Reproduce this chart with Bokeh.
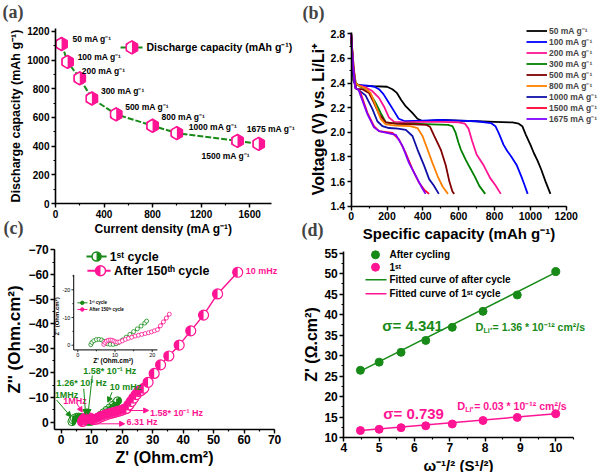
import numpy as np
from bokeh.plotting import figure
from bokeh.layouts import row, column
from bokeh.models import (Range1d, Label, Arrow, NormalHead, Legend, LegendItem,
                          SingleIntervalTicker, PrintfTickFormatter)
from bokeh.core.properties import value
from bokeh.embed import file_html
from bokeh.resources import INLINE

FONT = "Liberation Sans"
SERIF = "Liberation Serif"
PINK = "#FF1493"
GREEN = "#178A17"

# ---------------- (a) rate capability ----------------
a_current = [50, 100, 200, 300, 500, 800, 1000, 1500, 1675]
a_capacity = [1112, 987, 873, 732, 622, 542, 491, 436, 416]
a_labels = ["50 mA g⁻¹", "100 mA g⁻¹", "200 mA g⁻¹", "300 mA g⁻¹", "500 mA g⁻¹",
            "800 mA g⁻¹", "1000 mA g⁻¹", "1500 mA g⁻¹", "1675 mA g⁻¹"]
a_label_dx = [11, 10, 2, 9, 9, 9, 12, -36, -12]
a_label_dy = [-5, -5, -7, -8, -7, -9, -6, 15, -15]

# ---------------- (b) discharge curves ----------------
b_cap_50 = [0, 6, 12, 25, 60, 120, 200, 230, 255, 280, 305, 340, 370, 400, 450, 500, 600, 700, 800, 900, 935, 955, 975, 1000, 1020, 1040, 1060, 1085, 1112]
b_v_50 = [2.80, 2.60, 2.42, 2.385, 2.38, 2.375, 2.37, 2.35, 2.32, 2.26, 2.21, 2.16, 2.11, 2.09, 2.095, 2.10, 2.095, 2.09, 2.085, 2.08, 2.07, 2.05, 1.98, 1.90, 1.83, 1.77, 1.70, 1.60, 1.50]
b_cap_100 = [0, 8, 18, 40, 90, 130, 155, 180, 210, 240, 265, 300, 400, 500, 600, 700, 780, 805, 825, 850, 870, 895, 925, 950, 968, 985]
b_v_100 = [2.80, 2.55, 2.40, 2.385, 2.38, 2.37, 2.35, 2.31, 2.24, 2.17, 2.11, 2.09, 2.095, 2.10, 2.095, 2.09, 2.075, 2.05, 1.99, 1.90, 1.85, 1.80, 1.73, 1.64, 1.57, 1.50]
b_cap_200 = [0, 10, 25, 50, 80, 118, 155, 183, 211, 240, 300, 400, 500, 600, 635, 655, 675, 700, 740, 775, 805, 835]
b_v_200 = [2.80, 2.55, 2.39, 2.38, 2.365, 2.335, 2.28, 2.21, 2.12, 2.085, 2.08, 2.085, 2.085, 2.08, 2.07, 2.03, 1.93, 1.82, 1.73, 1.63, 1.57, 1.50]
b_cap_300 = [0, 10, 25, 50, 70, 99, 136, 164, 193, 250, 350, 450, 540, 565, 582, 598, 612, 638, 660, 690, 715, 748]
b_v_300 = [2.78, 2.55, 2.40, 2.37, 2.36, 2.33, 2.24, 2.16, 2.08, 2.07, 2.07, 2.065, 2.06, 2.05, 2.00, 1.92, 1.86, 1.78, 1.72, 1.64, 1.565, 1.50]
b_cap_500 = [0, 10, 20, 28, 45, 62, 99, 127, 155, 193, 250, 350, 420, 440, 464, 500, 528, 548, 565, 575]
b_v_500 = [2.78, 2.60, 2.42, 2.35, 2.35, 2.35, 2.32, 2.24, 2.15, 2.08, 2.07, 2.065, 2.06, 2.045, 1.97, 1.86, 1.73, 1.60, 1.52, 1.50]
b_cap_800 = [0, 12, 25, 40, 75, 108, 136, 164, 193, 250, 330, 370, 398, 426, 454, 482, 510, 540]
b_v_800 = [2.80, 2.55, 2.40, 2.38, 2.36, 2.32, 2.22, 2.11, 2.065, 2.055, 2.05, 2.035, 1.97, 1.86, 1.75, 1.645, 1.56, 1.50]
b_cap_1000 = [0, 10, 25, 45, 80, 118, 146, 174, 211, 260, 305, 342, 370, 407, 435, 460, 489]
b_v_1000 = [2.78, 2.55, 2.36, 2.34, 2.30, 2.19, 2.09, 2.05, 2.035, 2.03, 2.02, 1.97, 1.86, 1.73, 1.62, 1.57, 1.50]
b_cap_1500 = [0, 10, 22, 40, 52, 90, 127, 155, 230, 267, 305, 342, 379, 410, 435]
b_v_1500 = [2.78, 2.55, 2.36, 2.35, 2.32, 2.16, 2.05, 2.01, 1.995, 1.94, 1.83, 1.70, 1.59, 1.53, 1.50]
b_cap_1675 = [0, 10, 22, 40, 52, 90, 127, 155, 249, 286, 323, 370, 395, 415]
b_v_1675 = [2.80, 2.55, 2.36, 2.35, 2.30, 2.15, 2.04, 2.01, 1.98, 1.89, 1.75, 1.62, 1.55, 1.50]
b_names = ["50 mA g⁻¹", "100 mA g⁻¹", "200 mA g⁻¹", "300 mA g⁻¹", "500 mA g⁻¹",
           "800 mA g⁻¹", "1000 mA g⁻¹", "1500 mA g⁻¹", "1675 mA g⁻¹"]
b_colors = ["#000000", "#0000FF", "#FF1493", "#008000", "#800000",
            "#FF8000", "#1010A8", "#FF0033", "#7F00FF"]

# ---------------- (c) Nyquist ----------------
c_first_x = [3.5, 3.8, 4.3, 5.0, 5.7, 6.4, 7.0, 7.5, 8.0, 8.7, 9.5, 10.3, 11.0, 12.0, 13.0, 14.0, 15.0, 16.0, 17.0, 18.0, 18.5]
c_first_y = [-0.2, -1.0, -1.6, -2.0, -2.1, -1.9, -1.4, -0.9, -0.5, -0.3, -0.3, -0.5, -1.0, -1.9, -2.9, -3.9, -4.9, -5.9, -6.9, -8.0, -8.7]
c_after_x = [7.0, 7.3, 7.7, 8.2, 8.7, 9.2, 9.7, 10.2, 10.7, 11.3, 12.0, 12.8, 13.6, 14.5, 15.4, 16.3, 17.2, 18.1, 19.0, 19.8, 20.6, 21.4, 22.2, 23.0, 23.8, 24.6, 25.4, 26.2, 27.1, 28.5, 30.5, 32.6, 35.3, 38.7, 42.5, 46.7, 51.3, 57.9]
c_after_y = [-0.3, -1.0, -1.5, -1.8, -1.9, -1.8, -1.5, -1.2, -1.1, -1.2, -1.6, -2.1, -2.5, -2.9, -3.3, -3.6, -3.9, -4.2, -4.5, -4.8, -5.2, -5.6, -7.0, -8.4, -9.8, -11.2, -12.5, -12.9, -13.8, -16.2, -19.8, -23.3, -26.9, -31.3, -37.1, -43.5, -52.1, -60.9]

# ---------------- (d) Warburg ----------------
d_omega = [4.47, 5.0, 5.62, 6.32, 7.07, 7.94, 8.91, 10.0]
d_after = [26.4, 28.4, 30.8, 33.7, 36.9, 40.8, 44.8, 50.5]
d_first = [11.7, 12.0, 12.4, 12.85, 13.3, 14.15, 14.9, 15.8]
d_fit_x = [4.47, 10.0]
d_fit_after = [26.2, 50.3]
d_fit_first = [11.7, 15.8]


def make_fig(w, h, xr, yr, xfix, yfix, xb, yb):
    p = figure(width=w, height=h, x_range=Range1d(*xr), y_range=Range1d(*yr),
               output_backend="svg", toolbar_location=None,
               min_border_left=0, min_border_right=0, min_border_top=0, min_border_bottom=0)
    p.xaxis.fixed_location = xfix
    p.yaxis.fixed_location = yfix
    p.xaxis.bounds = xb
    p.yaxis.bounds = yb
    return p


def style(p, tick_size, xlab_size, ylab_size, xint, yint):
    p.outline_line_color = None
    p.xgrid.visible = False
    p.ygrid.visible = False
    p.background_fill_color = "white"
    p.border_fill_color = "white"
    p.xaxis.ticker = SingleIntervalTicker(interval=xint, num_minor_ticks=2)
    p.yaxis.ticker = SingleIntervalTicker(interval=yint, num_minor_ticks=2)
    for ax, ls in ((p.xaxis[0], xlab_size), (p.yaxis[0], ylab_size)):
        ax.axis_line_width = 1.6
        ax.major_tick_line_width = 1.4
        ax.minor_tick_line_width = 1.2
        ax.major_tick_in = 0
        ax.major_tick_out = 4
        ax.minor_tick_in = 0
        ax.minor_tick_out = 2
        ax.major_label_text_font = FONT
        ax.major_label_text_font_style = "bold"
        ax.major_label_text_font_size = tick_size
        ax.major_label_text_color = "black"
        ax.axis_label_text_font = FONT
        ax.axis_label_text_font_style = "bold"
        ax.axis_label_text_font_size = ls
        ax.axis_label_text_color = "black"
        ax.major_label_standoff = 2
        ax.axis_label_standoff = 1


def letter(p, txt, x, y):
    p.add_layout(Label(x=x, y=y, x_units="screen", y_units="screen", text=txt,
                       text_font=SERIF, text_font_style="bold", text_font_size="18px",
                       text_baseline="middle", text_align="left"))


def half_circles(t, x, y, color, size, left=True, lw=1.0):
    t.scatter(x, y, marker="circle", size=size, fill_color="white", line_color=color, line_width=lw)
    s, e = (np.pi / 2, 3 * np.pi / 2) if left else (-np.pi / 2, np.pi / 2)
    t.wedge(x, y, radius=size / 2, radius_units="screen", start_angle=s, end_angle=e,
            fill_color=color, line_color=None)


def half_hex(t, x, y, size):
    t.scatter(x, y, marker="hex", size=size, angle=np.pi / 2, fill_color=PINK, line_color=PINK)
    t.wedge(x, y, radius=size * 0.41, radius_units="screen", start_angle=np.pi / 2,
            end_angle=3 * np.pi / 2, fill_color="white", line_color=None)
    t.scatter(x, y, marker="hex", size=size, angle=np.pi / 2, fill_color=None,
              line_color=PINK, line_width=1.5)


# ================= panel (a) =================
pa = make_fig(300, 241, (-453.2, 2019.0), (-264.9, 1415.2), 0, 0, (0, 1780), (0, 1220))
style(pa, "10px", "12px", "12.5px", 400, 200)
pa.xaxis.axis_label = "Current density (mA g⁻¹)"
pa.yaxis.axis_label = "Discharge capacity (mAh g⁻¹)"
pa.line(a_current, a_capacity, line_color=GREEN, line_width=2, line_dash="6 2")
half_hex(pa, a_current, a_capacity, 13)
pa.text(a_current, a_capacity, text=a_labels, x_offset=a_label_dx, y_offset=a_label_dy,
        text_font=value(FONT), text_font_style="bold", text_font_size="8.5px",
        text_baseline="middle", text_align="left", text_color="black")
A_LEG_LINE_X = [536, 725]
A_LEG_Y = 1088
pa.line(A_LEG_LINE_X, [A_LEG_Y, A_LEG_Y], line_color=GREEN, line_width=2, line_dash="6 2")
half_hex(pa, [630], [A_LEG_Y], 13)
pa.text([750], [A_LEG_Y], text=["Discharge capacity (mAh g⁻¹)"], text_font=value(FONT),
        text_font_style="bold", text_font_size="10.5px", text_baseline="middle")
letter(pa, "(a)", 2, 230)
letter(pa, "(c)", 3, 14)

# ================= panel (b) =================
pb = make_fig(300, 245, (-283.0, 1391.5), (1.0809, 3.0705), 1.4, 0, (0, 1200), (1.4, 2.81))
style(pb, "10.5px", "15px", "16px", 200, 0.2)
pb.yaxis.formatter = PrintfTickFormatter(format="%.1f")
pb.xaxis.axis_label = "Specific capacity (mAh g⁻¹)"
pb.yaxis.axis_label = "Voltage (V) vs. Li/Li⁺"
b_x = [b_cap_50, b_cap_100, b_cap_200, b_cap_300, b_cap_500, b_cap_800, b_cap_1000, b_cap_1500, b_cap_1675]
b_y = [b_v_50, b_v_100, b_v_200, b_v_300, b_v_500, b_v_800, b_v_1000, b_v_1500, b_v_1675]
items = []
for xs, ys, c, n in zip(b_x, b_y, b_colors, b_names):
    r = pb.line(xs, ys, line_color=c, line_width=1.8)
    items.append(LegendItem(label=n, renderers=[r]))
leg = Legend(items=items, location=(226, 121), glyph_width=21, glyph_height=11, label_height=11,
             spacing=0, padding=0, margin=0, label_standoff=2, border_line_color=None,
             background_fill_alpha=0, label_text_font=FONT, label_text_font_style="bold",
             label_text_font_size="8.5px")
pb.add_layout(leg)
letter(pb, "(b)", 2, 233)
letter(pb, "(d)", 1, 16)

# ================= panel (c) =================
pc = make_fig(300, 231, (-19.91, 78.50), (20.43, -73.40), 2.84, -2.1, (-2.1, 70), (-70.3, 2.84))
style(pc, "12px", "16px", "17px", 10, 10)
pc.xaxis.axis_label = "Z' (Ohm.cm²)"
pc.yaxis.axis_label = "Z'' (Ohm.cm²)"
pc.line(c_first_x, c_first_y, line_color=GREEN, line_width=1)
half_circles(pc, c_first_x, c_first_y, GREEN, 8, left=False, lw=1)
pc.line(c_after_x, c_after_y, line_color=PINK, line_width=1.5)
half_circles(pc, c_after_x, c_after_y, PINK, 10, left=True, lw=1.2)

pc.line([8.3, 14.9], [-67.3, -67.3], line_color=GREEN, line_width=2)
half_circles(pc, [11.6], [-67.3], GREEN, 9, left=False, lw=1.5)
pc.line([8.6, 16.2], [-61.5, -61.5], line_color=PINK, line_width=2)
half_circles(pc, [12.9], [-61.5], PINK, 10, left=True, lw=1.5)
pc.text([15.9, 17.3], [-67.3, -61.5], text=["1ˢᵗ cycle", "After 150ᵗʰ cycle"],
        text_font=value(FONT), text_font_style="bold", text_font_size="12.5px",
        text_baseline="middle")

c_ann = [("1.58* 10⁻¹ Hz", 7.2, -20.7, GREEN), ("1.26* 10³ Hz", -1.5, -15.8, GREEN),
         ("10 mHz", 15.9, -14.5, GREEN), ("1MHz", -2.1, -11.1, GREEN),
         ("1MHz", 0.66, -8.8, PINK), ("1.58* 10⁻¹ Hz", 29.1, -3.9, PINK),
         ("6.31 Hz", 21.4, 0.0, PINK), ("10 mHz", 60.5, -61.5, PINK)]
for t, x, y, c in c_ann:
    pc.add_layout(Label(x=x, y=y, text=t, text_color=c, text_font=FONT, text_font_style="bold",
                        text_font_size="9px", text_baseline="middle", text_align="left"))
c_arrows = [(-1.5, -9.0, 3.2, -2.2, GREEN), (7.4, -13.6, 8.0, -3.2, GREEN),
            (10.2, -19.0, 8.8, -3.2, GREEN), (16.7, -12.2, 15.3, -8.1, GREEN),
            (5.2, -7.5, 6.9, -4.1, PINK), (22.2, -4.75, 28.7, -4.75, PINK),
            (11.8, 0.65, 20.8, 0.65, PINK)]
for x0, y0, x1, y1, c in c_arrows:
    pc.add_layout(Arrow(x_start=x0, y_start=y0, x_end=x1, y_end=y1, line_color=c, line_width=1,
                        end=NormalHead(size=5, fill_color=c, line_color=c)))

# inset of (c)
ins = pc.subplot(x_source=Range1d(0, 20), y_source=Range1d(0, -20),
                 x_target=Range1d(5.446, 29.856), y_target=Range1d(-31.275, -53.78))
INS_X0, INS_X1 = -1.1, 21.4
INS_Y0, INS_Y1 = 1.7, -25.4
ins_xticks = [0, 10, 20]
ins_yticks = [0, -10, -20]
ins_xminor = [5, 15]
ins_yminor = [-5, -15, -25]
ins.line([INS_X0, INS_X0], [INS_Y0, INS_Y1], line_color="black", line_width=1)
ins.line([INS_X0, INS_X1], [INS_Y0, INS_Y0], line_color="black", line_width=1)
ins.segment(x0=ins_xticks, y0=[INS_Y0] * 3, x1=ins_xticks, y1=[INS_Y0 + 0.8] * 3, line_color="black", line_width=0.8)
ins.segment(x0=ins_xminor, y0=[INS_Y0] * 2, x1=ins_xminor, y1=[INS_Y0 + 0.5] * 2, line_color="black", line_width=0.8)
ins.segment(x0=[INS_X0] * 3, y0=ins_yticks, x1=[INS_X0 - 0.6] * 3, y1=ins_yticks, line_color="black", line_width=0.8)
ins.segment(x0=[INS_X0] * 3, y0=ins_yminor, x1=[INS_X0 - 0.35] * 3, y1=ins_yminor, line_color="black", line_width=0.8)
ins.text(x=ins_xticks, y=[INS_Y0 + 1.2] * 3, text=[str(v) for v in ins_xticks],
         text_font=value(FONT), text_font_size="5.5px", text_align="center", text_baseline="top")
ins.text(x=[INS_X0 - 0.9] * 3, y=ins_yticks, text=["0", "-10", "-20"],
         text_font=value(FONT), text_font_size="5.5px", text_align="right", text_baseline="middle")
ins.text(x=[9.5], y=[5.4], text=["Z' (Ohm.cm²)"], text_font=value(FONT), text_font_style="bold",
         text_font_size="6.5px", text_align="center", text_baseline="middle")
ins.text(x=[-5.6], y=[-10.4], text=["Z'' (Ohm.cm²)"], angle=np.pi / 2, text_font=value(FONT),
         text_font_style="bold", text_font_size="6px", text_align="center", text_baseline="middle")
ins_after_x = [v for v in c_after_x if v <= 24.7]
ins_after_y = [c_after_y[i] for i, v in enumerate(c_after_x) if v <= 24.7]
ins.line(c_first_x, c_first_y, line_color=GREEN, line_width=1.2)
ins.scatter(c_first_x, c_first_y, size=4, fill_color="white", line_color=GREEN, line_width=0.8)
ins.line(ins_after_x, ins_after_y, line_color=PINK, line_width=2)
ins.scatter(ins_after_x, ins_after_y, size=4, fill_color="white", line_color=PINK, line_width=0.8)
ins.line([-0.1, 2.6], [-15.3, -15.3], line_color=GREEN, line_width=1)
ins.scatter([1.2], [-15.3], size=3.5, fill_color=GREEN, line_color=GREEN)
ins.line([-0.1, 2.6], [-12.9, -12.9], line_color=PINK, line_width=1)
ins.scatter([1.2], [-12.9], size=3.5, fill_color=PINK, line_color=PINK)
ins.text(x=[3.1, 3.1], y=[-15.3, -12.9], text=["1ˢᵗ cycle", "After 150ᵗʰ cycle"],
         text_font=value(FONT), text_font_style="bold", text_font_size="4.5px", text_baseline="middle")

# ================= panel (d) =================
pd = make_fig(300, 227, (2.7744, 11.2658), (1.455, 56.875), 10, 4, (4, 10.5), (10, 55.4))
style(pd, "12px", "15px", "16px", 1, 5)
pd.xaxis.axis_label = "ω⁻¹/² (S¹/²)"
pd.yaxis.axis_label = "Z' (Ω.cm²)"
pd.line(d_fit_x, d_fit_after, line_color=GREEN, line_width=1.5)
pd.line(d_fit_x, d_fit_first, line_color=PINK, line_width=1.5)
pd.scatter(d_omega, d_after, size=8, fill_color=GREEN, line_color=GREEN)
pd.scatter(d_omega, d_first, size=8, fill_color=PINK, line_color=PINK)
D_LEG_LINE_X = [4.614, 5.209]
D_LEG_MX = 4.897
D_LEG_TX = 5.293
D_LEG_Y = [54.6, 51.58, 48.5, 45.08]
pd.scatter([D_LEG_MX], [D_LEG_Y[0]], size=8, fill_color=GREEN, line_color=GREEN)
pd.scatter([D_LEG_MX], [D_LEG_Y[1]], size=8, fill_color=PINK, line_color=PINK)
pd.line(D_LEG_LINE_X, [D_LEG_Y[2]] * 2, line_color=GREEN, line_width=1.5)
pd.line(D_LEG_LINE_X, [D_LEG_Y[3]] * 2, line_color=PINK, line_width=1.5)
pd.text([D_LEG_TX] * 4, D_LEG_Y, text=["After cycling", "1ˢᵗ", "Fitted curve of after cycle",
                                      "Fitted curve of 1ˢᵗ cycle"],
        text_font=value(FONT), text_font_style="bold", text_font_size="10px", text_baseline="middle")
for t, x, y, c in (("σ= 4.341", 5.087, 37.27, GREEN), ("σ= 0.739", 5.115, 15.93, PINK)):
    pd.add_layout(Label(x=x, y=y, text=t, text_color=c, text_font=FONT, text_font_style="bold",
                        text_font_size="15px", text_baseline="middle"))
for x, y, c, rest in ((7.73, 36.93, GREEN, "= 1.36 * 10⁻¹² cm²/s"),
                      (7.21, 17.57, PINK, "= 0.03 * 10⁻¹² cm²/s")):
    pd.add_layout(Label(x=x, y=y, text="D", text_color=c, text_font=FONT, text_font_style="bold",
                        text_font_size="11px", text_baseline="middle"))
    pd.add_layout(Label(x=x, y=y, x_offset=8, y_offset=-3, text="Li⁺", text_color=c, text_font=FONT,
                        text_font_style="bold", text_font_size="7px", text_baseline="middle"))
    pd.add_layout(Label(x=x, y=y, x_offset=17, text=rest, text_color=c, text_font=FONT,
                        text_font_style="bold", text_font_size="10.5px", text_baseline="middle"))

layout = row(column(pa, pc), column(pb, pd))
open("out.html", "w").write(file_html(layout, INLINE))
